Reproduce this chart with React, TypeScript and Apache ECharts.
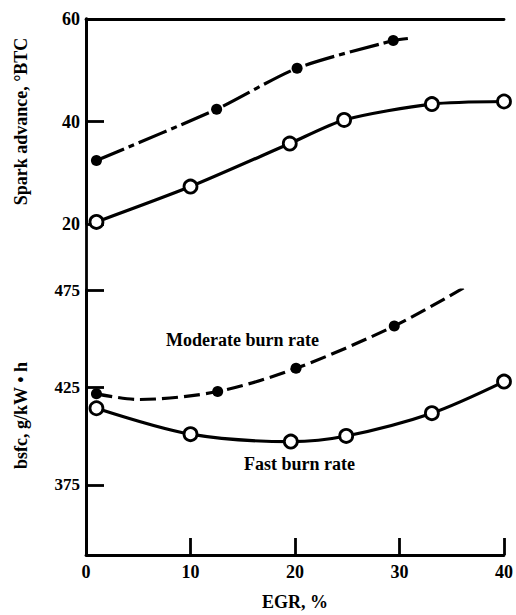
import React, { useEffect, useRef } from "react";
import * as echarts from "echarts";

// Spark advance (top panel)
const sparkFast: number[][] = [[1, 20.4], [10, 27.3], [19.5, 35.7], [24.7, 40.3], [33.1, 43.4], [40, 43.9]];
const sparkModerateMarks: number[][] = [[1, 32.4], [12.5, 42.4], [20.2, 50.4], [29.4, 55.8]];
const sparkModerateCurve: number[][] = [[1, 32.4], [12.5, 42.4], [20.2, 50.4], [29.4, 55.8], [30.8, 56.2]];

// bsfc (bottom panel)
const bsfcFast: number[][] = [[1, 414.3], [10, 401], [19.6, 397.2], [24.9, 400.1], [33.1, 411.8], [40, 428]];
const bsfcModerateMarks: number[][] = [[1, 421.7], [12.6, 422.9], [20.1, 434.8], [29.5, 456.5]];
const bsfcModerateCurve: number[][] = [[1, 421.7], [5, 418.8], [12.6, 422.9], [20.1, 434.8], [29.5, 456.5], [36.6, 477.5]];

const xTicks = [0, 10, 20, 30, 40];
const sparkTicks = [20, 40, 60];
const bsfcTicks = [375, 425, 475];

const FONT = "Liberation Serif";
const INK = "#000";

export default function App() {
  const ref = useRef<HTMLDivElement>(null);
  useEffect(() => {
    if (!ref.current) return;
    const chart = echarts.init(ref.current, null, { renderer: "svg" });
    const axisLine = { show: true, lineStyle: { color: INK, width: 2.8 } };
    const label = { color: INK, fontFamily: FONT, fontWeight: "bold" as const, fontSize: 18 };
    chart.setOption({
      animation: false,
      backgroundColor: "#fff",
      grid: [
        { left: 86, top: 19, width: 418, height: 205 },
        { left: 86, top: 290, width: 418, height: 265 },
        { left: 86, top: 19, width: 418, height: 536 },
      ],
      xAxis: [
        {
          type: "value", gridIndex: 0, min: 0, max: 40, interval: 10, position: "top",
          axisLine, axisTick: { show: false }, axisLabel: { show: false }, splitLine: { show: false },
        },
        {
          type: "value", gridIndex: 1, min: 0, max: 40, interval: 10, position: "bottom",
          axisLine,
          axisTick: { show: true, inside: true, length: 17, lineStyle: { color: INK, width: 2.8 }, customValues: xTicks },
          axisLabel: { ...label, margin: 8, customValues: xTicks },
          splitLine: { show: false },
          name: "EGR, %", nameLocation: "middle", nameGap: 38,
          nameTextStyle: { ...label },
        },
        {
          type: "value", gridIndex: 2, min: 0, max: 40, show: false,
        },
      ],
      yAxis: [
        {
          type: "value", gridIndex: 0, min: 20, max: 60, interval: 20,
          axisLine,
          axisTick: { show: true, inside: true, length: 18, lineStyle: { color: INK, width: 2.8 }, customValues: sparkTicks },
          axisLabel: { ...label, margin: 6, customValues: sparkTicks },
          splitLine: { show: false },
          name: "Spark advance, °BTC", nameLocation: "middle", nameGap: 56,
          nameTextStyle: { ...label },
        },
        {
          type: "value", gridIndex: 1, min: 339, max: 475,
          axisLine,
          axisTick: { show: true, inside: true, length: 18, lineStyle: { color: INK, width: 2.8 }, customValues: bsfcTicks },
          axisLabel: { ...label, fontSize: 17, margin: 6, customValues: bsfcTicks },
          splitLine: { show: false },
          name: "bsfc, g/kW • h", nameLocation: "middle", nameGap: 56,
          nameTextStyle: { ...label, padding: [0, 0, 0, 14] },
        },
        {
          type: "value", gridIndex: 2, min: 0, max: 1, position: "right",
          axisLine, axisTick: { show: false }, axisLabel: { show: false }, splitLine: { show: false },
        },
      ],
      graphic: [
        { type: "text", left: 166, top: 331, style: { text: "Moderate burn rate", font: `bold 18px "${FONT}"`, fill: INK } },
        { type: "text", left: 244, top: 455, style: { text: "Fast burn rate", font: `bold 18px "${FONT}"`, fill: INK } },
      ],
      series: [
        {
          type: "line", xAxisIndex: 0, yAxisIndex: 0, data: sparkModerateCurve, smooth: 0.25,
          showSymbol: false, symbol: "none",
          lineStyle: { color: INK, width: 3.2, type: [30, 5, 6, 5] },
        },
        {
          type: "scatter", xAxisIndex: 0, yAxisIndex: 0, data: sparkModerateMarks,
          symbol: "circle", symbolSize: 11, itemStyle: { color: INK, opacity: 1 },
        },
        {
          type: "line", xAxisIndex: 0, yAxisIndex: 0, data: sparkFast, smooth: 0.25,
          symbol: "circle", symbolSize: 13, showSymbol: true,
          lineStyle: { color: INK, width: 3.2 },
          itemStyle: { color: "#fff", borderColor: INK, borderWidth: 2.8 },
        },
        {
          type: "line", xAxisIndex: 1, yAxisIndex: 1, data: bsfcModerateCurve, smooth: 0.3,
          showSymbol: false, symbol: "none",
          lineStyle: { color: INK, width: 3.2, type: [16, 6] },
        },
        {
          type: "scatter", xAxisIndex: 1, yAxisIndex: 1, data: bsfcModerateMarks,
          symbol: "circle", symbolSize: 11, itemStyle: { color: INK, opacity: 1 },
        },
        {
          type: "line", xAxisIndex: 1, yAxisIndex: 1, data: bsfcFast, smooth: 0.3,
          symbol: "circle", symbolSize: 13, showSymbol: true,
          lineStyle: { color: INK, width: 3.2 },
          itemStyle: { color: "#fff", borderColor: INK, borderWidth: 2.8 },
        },
      ],
    });
    return () => chart.dispose();
  }, []);
  return (
    <div
      ref={ref}
      style={{ position: "absolute", left: 0, top: 0, width: 516, height: 615 }}
    />
  );
}
